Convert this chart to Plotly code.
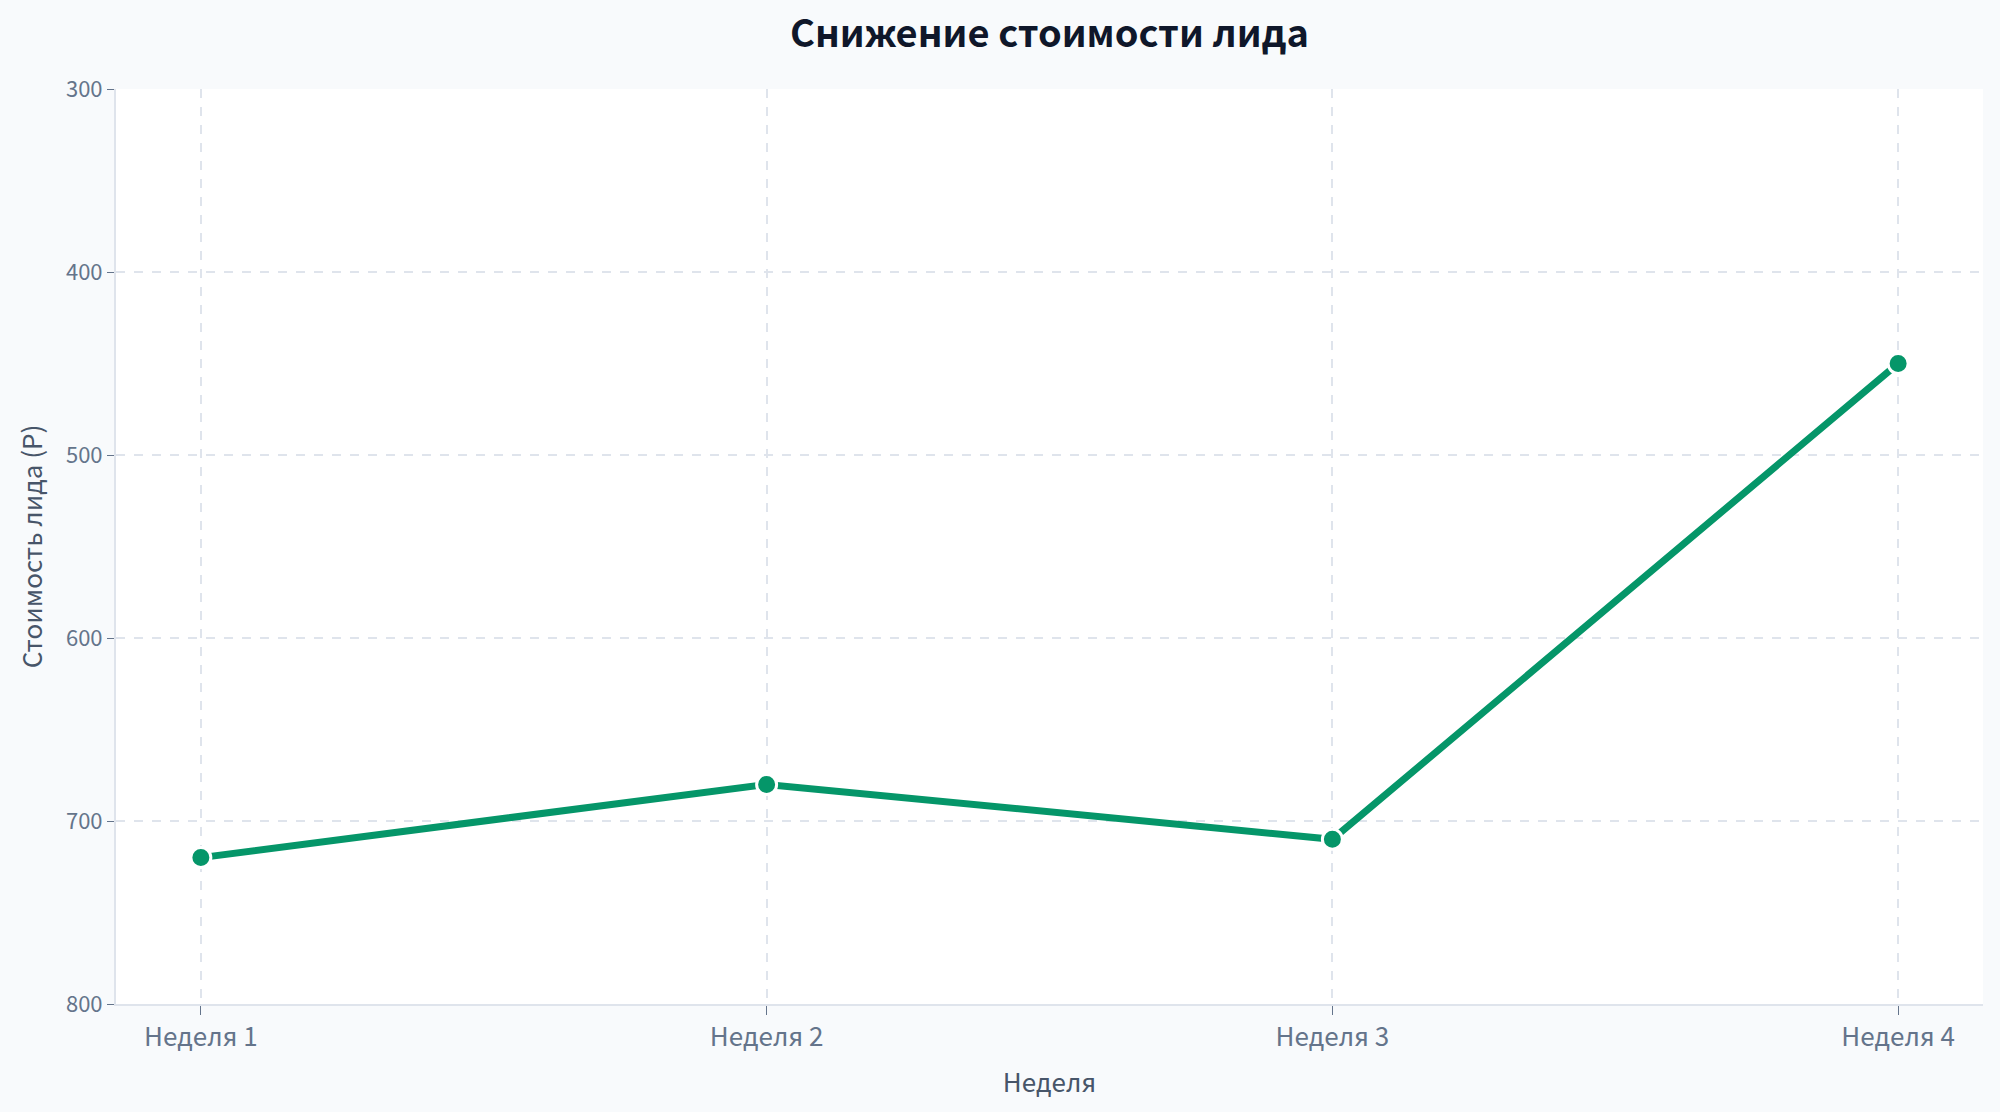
import plotly.graph_objects as go

# data
weeks = ["Неделя 1", "Неделя 2", "Неделя 3", "Неделя 4"]
lead_cost = [720, 680, 710, 450]
y_ticks = [300, 400, 500, 600, 700, 800]

FONT = "Noto Sans CJK SC, Noto Sans, sans-serif"
GREEN = "#059669"
GRID = "#dfe4ec"

fig = go.Figure()

fig.add_trace(
    go.Scatter(
        x=weeks, y=lead_cost,
        mode="lines+markers",
        name="Стоимость лида",
        line=dict(color=GREEN, width=7),
        marker=dict(size=20, color=GREEN, line=dict(color="white", width=3)),
    )
)

fig.update_xaxes(
    title_text="Неделя",
    title_font=dict(size=26, color="#475569"),
    title_standoff=22,
    tickfont=dict(size=26, color="#64748b"),
    range=[-0.15, 3.15],
    showgrid=True, gridcolor=GRID, gridwidth=1.5, griddash="dash",
    showline=True, linecolor=GRID, linewidth=2,
    ticks="outside", ticklen=9, tickcolor="#64748b",
    zeroline=False,
)
fig.update_yaxes(
    title_text="Стоимость лида (Р)",
    title_font=dict(size=26, color="#475569"),
    title_standoff=16,
    tickfont=dict(size=22, color="#64748b"),
    range=[800, 300],
    tickvals=y_ticks,
    showgrid=True, gridcolor=GRID, gridwidth=1.5, griddash="dash",
    showline=True, linecolor=GRID, linewidth=2,
    ticks="outside", ticklen=7, tickcolor="#64748b",
    zeroline=False,
)

fig.update_layout(
    title=dict(
        text="<b>Снижение стоимости лида</b>",
        font=dict(family=FONT, size=38, color="#0f172a"),
        xref="paper", x=0.5, xanchor="center", y=0.97, yanchor="middle",
    ),
    font=dict(family=FONT),
    paper_bgcolor="#f8fafc",
    plot_bgcolor="white",
    showlegend=False,
    width=2000, height=1112,
    margin=dict(l=116, r=17, t=89, b=108),
)

# drop the default page margin so the figure sits at the window corner
fig.write_html(
    "out.html",
    config={"displayModeBar": False},
    post_script="document.body.style.margin='0';",
)
